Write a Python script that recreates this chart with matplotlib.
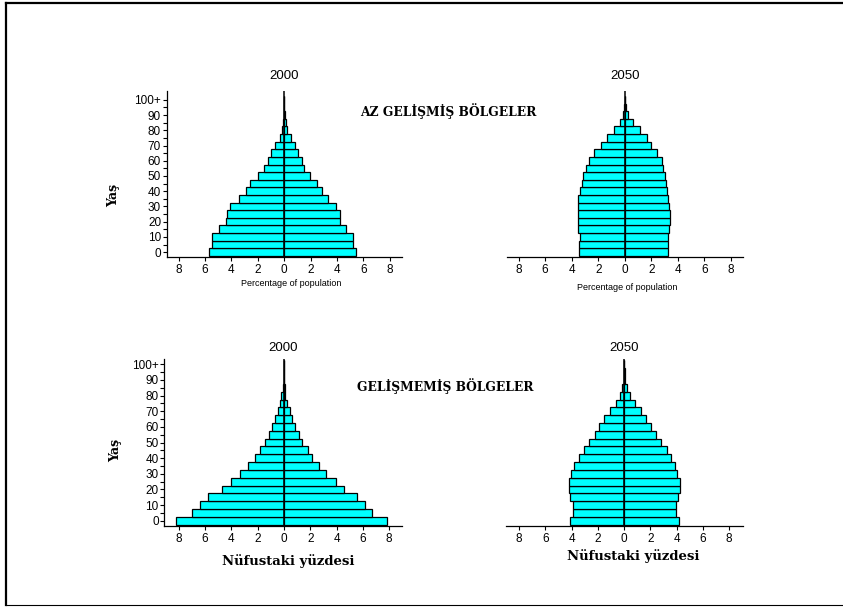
import matplotlib
matplotlib.use("Agg")
import matplotlib.pyplot as plt
from matplotlib.lines import Line2D
import numpy as np

plt.rcParams['font.family'] = ['Liberation Sans', 'DejaVu Sans']

# age groups, 0-4 ... 100+
age_labels = ["0", "10", "20", "30", "40", "50", "60", "70", "80", "90", "100+"]
n_groups = 21

# percentage of population, male (left) and female (right)
less_2000_male = [5.67, 5.49, 5.49, 4.96, 4.43, 4.33, 4.08, 3.44, 2.91, 2.56, 1.95,
                  1.52, 1.24, 0.96, 0.71, 0.33, 0.18, 0.08, 0.04, 0.02, 0.01]
less_2000_female = [5.42, 5.22, 5.22, 4.71, 4.20, 4.20, 3.90, 3.34, 2.84, 2.48, 1.92,
                    1.52, 1.32, 1.06, 0.81, 0.53, 0.23, 0.12, 0.06, 0.02, 0.01]

less_2050_male = [3.44, 3.44, 3.34, 3.49, 3.49, 3.49, 3.49, 3.49, 3.34, 3.22, 3.11,
                  2.94, 2.73, 2.33, 1.77, 1.34, 0.81, 0.38, 0.10, 0.03, 0.01]
less_2050_female = [3.29, 3.29, 3.29, 3.34, 3.39, 3.39, 3.34, 3.29, 3.19, 3.09, 3.01,
                    2.89, 2.81, 2.43, 2.00, 1.67, 1.16, 0.61, 0.28, 0.08, 0.01]

least_2000_male = [8.19, 6.99, 6.40, 5.77, 4.74, 4.03, 3.34, 2.70, 2.24, 1.84, 1.43,
                   1.17, 0.92, 0.66, 0.46, 0.33, 0.20, 0.08, 0.03, 0.01, 0.005]
least_2000_female = [7.83, 6.71, 6.17, 5.54, 4.59, 3.93, 3.21, 2.65, 2.14, 1.79, 1.40,
                     1.12, 0.87, 0.61, 0.43, 0.26, 0.10, 0.05, 0.02, 0.01, 0.005]

least_2050_male = [4.11, 3.90, 3.90, 4.11, 4.21, 4.21, 4.01, 3.80, 3.47, 3.09, 2.70,
                   2.24, 1.94, 1.53, 1.07, 0.61, 0.28, 0.13, 0.03, 0.01, 0.005]
least_2050_female = [4.16, 3.95, 3.95, 4.11, 4.24, 4.24, 4.06, 3.85, 3.60, 3.24, 2.78,
                     2.45, 2.07, 1.68, 1.25, 0.82, 0.46, 0.23, 0.08, 0.03, 0.005]

xtick_vals = [-8, -6, -4, -2, 0, 2, 4, 6, 8]

fig = plt.figure(figsize=(8.43, 6.07), dpi=100)

serif = ['DejaVu Serif']


def pyramid(rect, male, female, year, ylim, xlim, yaxis, title_pad):
    ax = fig.add_axes(rect)
    y = np.arange(n_groups)
    ax.barh(y, -np.array(male), height=1.0, color="#00ffff",
            edgecolor="black", linewidth=0.9)
    ax.barh(y, female, height=1.0, color="#00ffff",
            edgecolor="black", linewidth=0.9)
    ax.axvline(0, color="black", lw=1.1, zorder=5)
    ax.set_xlim(*xlim)
    ax.set_ylim(*ylim)
    ax.set_xticks(xtick_vals)
    ax.set_xticklabels([str(abs(v)) for v in xtick_vals], fontsize=8.5)
    ax.spines['top'].set_visible(False)
    ax.spines['right'].set_visible(False)
    ax.spines['bottom'].set_linewidth(0.9)
    ax.tick_params(axis='x', direction='out', length=3, width=0.8, pad=2)
    if yaxis:
        ax.spines['left'].set_linewidth(0.9)
        ax.set_yticks(np.arange(0, n_groups, 2))
        ax.set_yticklabels(age_labels, fontsize=8.5)
        ax.set_yticks(np.arange(1, n_groups, 2), minor=True)
        ax.tick_params(axis='y', which='both', direction='out', length=3,
                       width=0.8, pad=1)
    else:
        ax.spines['left'].set_visible(False)
        ax.set_yticks([])
    ax.set_title(year, fontsize=9.5, pad=title_pad)
    return ax


top_ylim = (-0.6, 21.1)
bot_ylim = (-0.68, 20.64)

ax1 = pyramid([0.1977, 0.5771, 0.2788, 0.2722], less_2000_male, less_2000_female,
              "2000", top_ylim, (-8.9, 8.9), True, 9)
ax2 = pyramid([0.6011, 0.5771, 0.2807, 0.2722], less_2050_male, less_2050_female,
              "2050", top_ylim, (-8.9, 8.95), False, 9)
ax3 = pyramid([0.1949, 0.1334, 0.2816, 0.2746], least_2000_male, least_2000_female,
              "2000", bot_ylim, (-9.1, 8.95), True, 6)
ax4 = pyramid([0.6002, 0.1334, 0.2811, 0.2746], least_2050_male, least_2050_female,
              "2050", bot_ylim, (-9.0, 9.05), False, 6)

W, H = 843.0, 607.0


def fx(px):
    return px / W


def fy(py):
    return 1 - py / H


# small x labels under the top row
fig.text(fx(291), fy(283), "Percentage of population", fontsize=6.5,
         ha='center', va='center')
fig.text(fx(627), fy(288), "Percentage of population", fontsize=6.5,
         ha='center', va='center')

# bottom x labels
fig.text(fx(288), fy(561), "Nüfustaki yüzdesi", fontsize=9.5, fontweight='bold',
         family=serif, ha='center', va='center')
fig.text(fx(633), fy(556), "Nüfustaki yüzdesi", fontsize=9.5, fontweight='bold',
         family=serif, ha='center', va='center')

# y labels
fig.text(fx(114), fy(195), "Yaş", fontsize=9, fontweight='bold', family=serif,
         rotation=90, ha='center', va='center')
fig.text(fx(116), fy(450), "Yaş", fontsize=9, fontweight='bold', family=serif,
         rotation=90, ha='center', va='center')

# region names
fig.text(fx(448), fy(111), "AZ GELİŞMİŞ BÖLGELER", fontsize=8.8, fontweight='bold',
         family=serif, ha='center', va='center')
fig.text(fx(445), fy(386), "GELİŞMEMİŞ BÖLGELER", fontsize=8.8, fontweight='bold',
         family=serif, ha='center', va='center')

# frame lines
fig.add_artist(Line2D([fx(6), 1], [fy(3), fy(3)], color='black', lw=1.6,
                      transform=fig.transFigure))
fig.add_artist(Line2D([fx(6), fx(6)], [fy(3), fy(605)], color='black', lw=1.6,
                      transform=fig.transFigure))
fig.add_artist(Line2D([fx(6), 1], [fy(605), fy(605)], color='black', lw=0.8,
                      transform=fig.transFigure))

fig.savefig("out.png", dpi=100)
plt.close(fig)
